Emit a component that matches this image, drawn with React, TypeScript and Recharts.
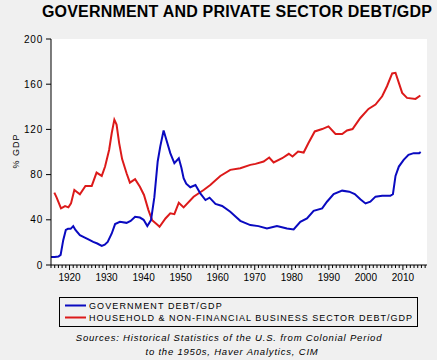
import React from 'react';
import { LineChart, Line, XAxis, YAxis, CartesianGrid } from 'recharts';

const govYears = [1915, 1916, 1917, 1917.6, 1918.3, 1919, 1919.6, 1920.3, 1921, 1921.6, 1922.8, 1924, 1925.1, 1926.4, 1927.5, 1928.7, 1929.5, 1930.3, 1931.4, 1932.3, 1933.6, 1935.4, 1936.5, 1937.7, 1939, 1940, 1941, 1942, 1942.9, 1943.8, 1944.5, 1945.4, 1946.3, 1947.2, 1948.3, 1949.5, 1950.2, 1950.8, 1951.5, 1952.6, 1954, 1955.3, 1956.7, 1957.8, 1959.4, 1961.2, 1963.4, 1964.8, 1966.1, 1968.8, 1971, 1973.3, 1976, 1978.7, 1980.5, 1982.3, 1984.1, 1985.9, 1988.2, 1989.5, 1991.3, 1993.6, 1995.5, 1997, 1998.5, 1999.9, 2001.2, 2002.6, 2004.4, 2006.6, 2007.3, 2008, 2008.9, 2010.2, 2011.5, 2012.9, 2014.4, 2014.8];
const govValues = [7, 7, 7.5, 9, 22, 31, 32, 32, 34.4, 31, 26.4, 24.5, 22.6, 20.4, 19, 16.9, 18, 20.4, 27.9, 36.2, 38.2, 37.3, 39, 42.7, 42, 40, 34.4, 39.7, 60, 91.6, 105, 119, 109, 99, 90.1, 94.5, 86, 76.8, 72, 68.8, 70.8, 63.4, 57.5, 59.6, 54, 52.2, 47.1, 43, 39.1, 35.3, 34.4, 32.3, 34.4, 32.3, 31.4, 38.2, 41.2, 48, 50.1, 56, 62.8, 65.8, 64.9, 62.8, 58.1, 54.5, 56, 60.5, 61.3, 61.3, 62.8, 78.8, 87.1, 93, 97.5, 99, 99, 100];

const privYears = [1915.9, 1916.5, 1917.7, 1918.8, 1919.7, 1920.4, 1921.3, 1922.8, 1924.3, 1926, 1927.3, 1928.7, 1929.6, 1930.7, 1931.4, 1932.1, 1932.7, 1933.4, 1934.2, 1935.4, 1936.3, 1937.7, 1939, 1940.1, 1941.3, 1942.3, 1943.8, 1944.3, 1945.9, 1947.2, 1948.3, 1949.5, 1950.8, 1953.5, 1956.2, 1958, 1960.7, 1963.4, 1966.1, 1968.8, 1970.2, 1972.4, 1973.9, 1975.1, 1977.4, 1979.2, 1980.2, 1981.7, 1983.2, 1984.5, 1986.2, 1988.2, 1989.9, 1991.8, 1993.6, 1994.9, 1996.4, 1998.5, 2000.7, 2002.6, 2004.4, 2005.7, 2007.1, 2008, 2008.9, 2009.8, 2011.1, 2013.4, 2014.7];
const privValues = [64, 59.9, 50.1, 52.2, 51, 54.5, 66.4, 62.6, 70, 70, 81.8, 78.8, 87.1, 102, 116.8, 128.6, 124.2, 107.9, 93.7, 81.2, 72.9, 75.9, 69.3, 62, 48.6, 39.7, 35.3, 33.8, 41.2, 45.7, 45, 55.1, 51, 60.4, 66.4, 70.8, 78.8, 84.2, 85.7, 88.6, 89.5, 91.6, 95.1, 90.7, 94.5, 98.4, 96, 100.4, 99.5, 107.9, 118.2, 120.3, 122.7, 115.9, 115.9, 119.1, 120.3, 130.1, 138.1, 142, 149.3, 158.2, 169.5, 170.1, 161.2, 152.3, 147.9, 147, 150];

const yTicks = [0, 40, 80, 120, 160, 200];
const xTicks: number[] = [];
for (let y = 1915; y <= 2016; y++) xTicks.push(y);

const title = 'GOVERNMENT AND PRIVATE SECTOR DEBT/GDP';
const yLabel = '% GDP';
const govName = 'GOVERNMENT DEBT/GDP';
const privName = 'HOUSEHOLD & NON-FINANCIAL BUSINESS SECTOR DEBT/GDP';
const source1 = 'Sources:  Historical Statistics of the U.S. from Colonial Period';
const source2 = 'to the 1950s, Haver Analytics, CIM';

const BLUE = '#0a0ac0';
const RED = '#dc1a1a';
const FONT = 'Liberation Sans, Arial, sans-serif';

const govData = govYears.map((x, i) => ({ x, v: govValues[i] }));
const privData = privYears.map((x, i) => ({ x, v: privValues[i] }));

const XTick = (props: any) => {
  const { x, y, payload } = props;
  const yr = payload.value;
  const major = yr % 10 === 0;
  return (
    <g>
      <line x1={x} x2={x} y1={y} y2={y + (major ? 5 : 3)} stroke="#000" strokeWidth={1} />
      {major && (
        <text x={x} y={y + 16} textAnchor="middle" fontSize={10} fontFamily={FONT} fill="#000">
          {yr}
        </text>
      )}
    </g>
  );
};

export default function App() {
  return (
    <div style={{ position: 'absolute', left: 0, top: 0, width: 437, height: 360, background: '#f0f0f0' }}>
      <LineChart width={437} height={360} margin={{ top: 39, right: 10, left: 0, bottom: 65 }}>
        <CartesianGrid vertical={false} horizontal={true} fill="#ffffff" stroke="#c8c8c8" horizontalValues={[40, 80, 120, 160]} />
        <XAxis
          xAxisId="b"
          dataKey="x"
          type="number"
          domain={[1915, 2016.5]}
          ticks={xTicks}
          interval={0}
          allowDataOverflow
          tickLine={false}
          tickSize={0}
          tickMargin={0}
          tick={<XTick />}
          axisLine={{ stroke: '#000' }}
          height={30}
        />
        <XAxis xAxisId="t" orientation="top" type="number" domain={[1915, 2016.5]} tick={false} tickLine={false} axisLine={{ stroke: '#000' }} height={0} />
        <YAxis
          yAxisId="l"
          type="number"
          domain={[0, 200]}
          ticks={yTicks}
          interval={0}
          width={51}
          tickSize={5}
          tickMargin={3}
          tickLine={{ stroke: '#000' }}
          axisLine={{ stroke: '#000' }}
          tick={{ fontSize: 10, fill: '#000', fontFamily: FONT, letterSpacing: 0.8 }}
        />
        <YAxis yAxisId="r" orientation="right" type="number" domain={[0, 200]} tick={false} tickLine={false} axisLine={{ stroke: '#000' }} width={0} />
        <Line xAxisId="b" yAxisId="l" data={privData} dataKey="v" type="linear" stroke={RED} strokeWidth={2} dot={false} isAnimationActive={false} />
        <Line xAxisId="b" yAxisId="l" data={govData} dataKey="v" type="linear" stroke={BLUE} strokeWidth={2} dot={false} isAnimationActive={false} />
      </LineChart>
      <svg width={437} height={360} style={{ position: 'absolute', left: 0, top: 0, pointerEvents: 'none' }}>
        <text x={237} y={17} textAnchor="middle" fontSize={16} fontWeight="bold" fontFamily={FONT} fill="#000" letterSpacing={0.2}>
          {title}
        </text>
        <text x={0} y={0} transform="translate(19,151) rotate(-90)" textAnchor="middle" fontSize={9} fontFamily={FONT} fill="#000" letterSpacing={1}>
          {yLabel}
        </text>
        <rect x={59.5} y={297.5} width={358} height={29} fill="none" stroke="#000" strokeWidth={1} />
        <line x1={65} x2={86} y1={305.5} y2={305.5} stroke={BLUE} strokeWidth={2} />
        <line x1={65} x2={86} y1={317.5} y2={317.5} stroke={RED} strokeWidth={2} />
        <text x={89} y={309} fontSize={9} fontFamily={FONT} fill="#000" letterSpacing={1.1}>{govName}</text>
        <text x={89} y={321} fontSize={9} fontFamily={FONT} fill="#000" letterSpacing={1.0}>{privName}</text>
        <text x={229} y={341} textAnchor="middle" fontSize={9.5} fontStyle="italic" fontFamily={FONT} fill="#000" letterSpacing={0.8}>{source1}</text>
        <text x={232} y={355} textAnchor="middle" fontSize={9.5} fontStyle="italic" fontFamily={FONT} fill="#000" letterSpacing={0.8}>{source2}</text>
      </svg>
    </div>
  );
}
